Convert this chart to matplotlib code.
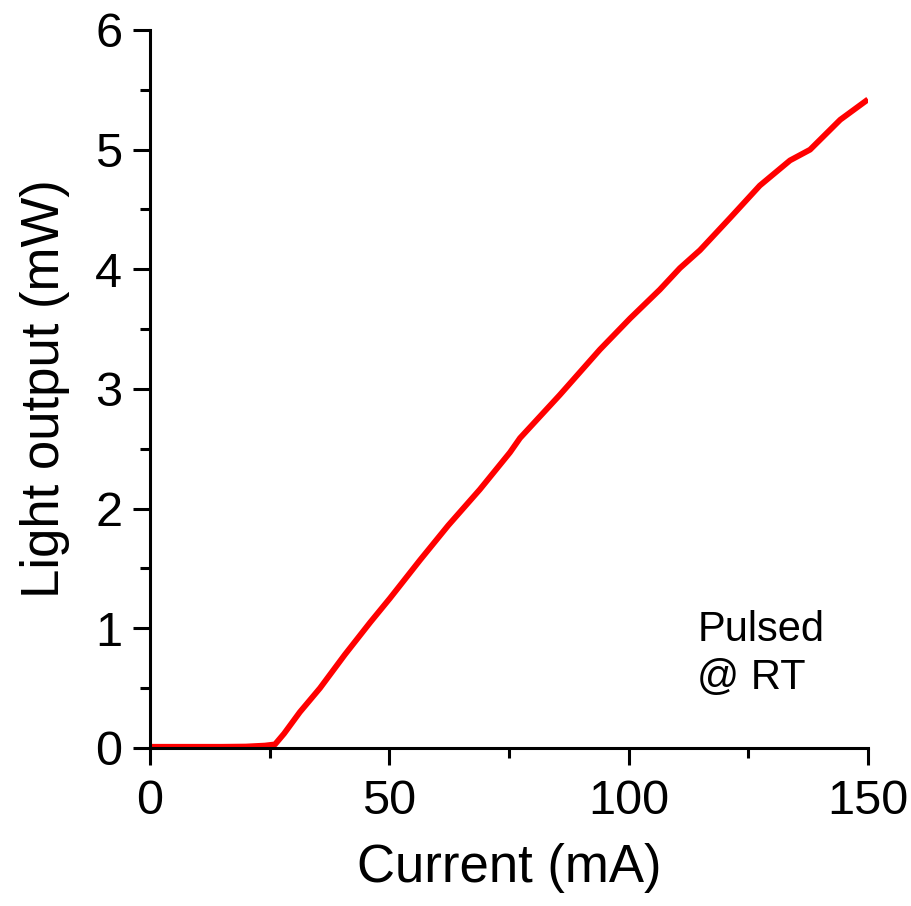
import matplotlib

matplotlib.use("Agg")
import matplotlib.pyplot as plt
from matplotlib.ticker import MultipleLocator

# L-I curve (current in mA, light output in mW)
current = [0, 5, 10, 15, 20, 24, 26.1, 28, 31.3, 35.5, 40.7, 46.0, 50.1, 56.4,
           62.3, 68.9, 75.2, 77.3, 85.6, 94.0, 100.3, 106.5, 110.7, 114.9,
           121.2, 127.4, 133.7, 137.9, 144.2, 150]
power = [0.01, 0.01, 0.01, 0.01, 0.012, 0.02, 0.03, 0.12, 0.30, 0.50, 0.78,
         1.05, 1.25, 1.57, 1.86, 2.16, 2.47, 2.59, 2.95, 3.33, 3.59, 3.83,
         4.01, 4.16, 4.43, 4.70, 4.91, 5.00, 5.25, 5.42]

plt.rcParams["font.family"] = ["Liberation Sans", "DejaVu Sans"]

fig = plt.figure(figsize=(9.11, 9.06), dpi=100)
ax = fig.add_axes([0.1647, 0.1744, 0.7881, 0.7925])
ax.plot(current, power, color="#ff0000", lw=4.2, solid_capstyle="butt")

ax.set_xlim(0, 150)
ax.set_ylim(0, 6)
ax.xaxis.set_major_locator(MultipleLocator(50))
ax.xaxis.set_minor_locator(MultipleLocator(25))
ax.yaxis.set_major_locator(MultipleLocator(1))
ax.yaxis.set_minor_locator(MultipleLocator(0.5))

for side in ("top", "right"):
    ax.spines[side].set_visible(False)
for side in ("left", "bottom"):
    ax.spines[side].set_linewidth(2.2)
ax.tick_params(which="major", direction="out", length=12, width=2.2,
               labelsize=35, pad=8)
ax.tick_params(axis="x", which="major", pad=10)
ax.tick_params(which="minor", direction="out", length=7, width=2.2)

ax.set_xlabel("Current (mA)", fontsize=38, labelpad=14)
ax.set_ylabel("Light output (mW)", fontsize=38, labelpad=18)
ax.text(0.762, 0.131, "Pulsed\n@ RT", transform=ax.transAxes, fontsize=30,
        ha="left", va="center", multialignment="left", linespacing=1.25)

fig.savefig("out.png", dpi=100)
